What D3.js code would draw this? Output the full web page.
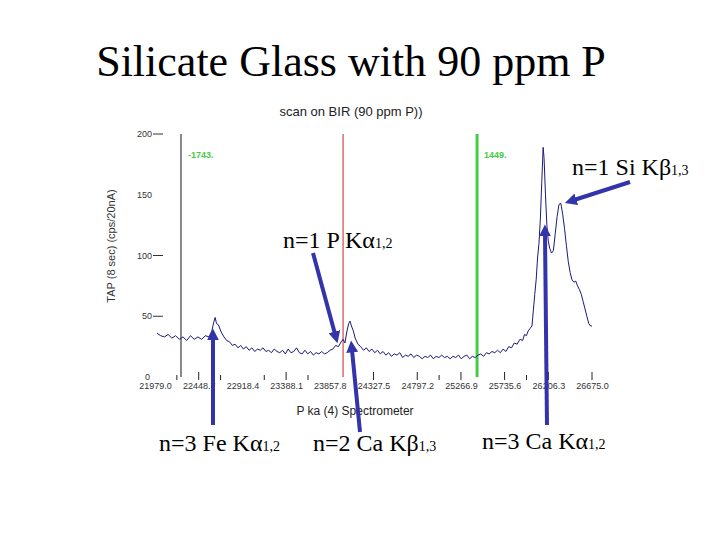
<!DOCTYPE html>
<html>
<head>
<meta charset="utf-8">
<script src="https://cdn.jsdelivr.net/npm/d3@7"></script>
<style>
  body { margin: 0; background: #fff; }
  svg { display: block; }
</style>
</head>
<body>
<div id="chart"></div>
<script>
// spectrometer positions of the labelled ticks
var tickValues = [21979.0, 22448.7, 22918.4, 23388.1, 23857.8, 24327.5,
  24797.2, 25266.9, 25735.6, 26206.3, 26675.0];
var tickLabels = ["21979.0", "22448.7", "22918.4", "23388.1", "23857.8", "24327.5",
  "24797.2", "25266.9", "25735.6", "26206.3", "26675.0"];
var majorTicks = [22448.7, 23388.1, 24327.5, 24797.2, 25266.9, 25735.6, 26206.3, 26675.0];
var minorTicks = [22213.85, 22683.55, 23153.25, 23622.95, 25032.05, 25971.0];
var yTicks = [0, 50, 100, 150, 200];

// scan: position / counts
var positions = [22000, 22040, 22080, 22120, 22160, 22200, 22240, 22280, 22320, 22360,
  22400, 22440, 22480, 22520, 22560, 22590, 22610, 22625, 22640, 22660,
  22690, 22720, 22750, 22780, 22810, 22840, 22870, 22900, 22930, 22960,
  22990, 23020, 23050, 23080, 23110, 23140, 23170, 23200, 23230, 23260,
  23290, 23320, 23350, 23380, 23410, 23440, 23470, 23500, 23530, 23560,
  23590, 23620, 23650, 23680, 23710, 23740, 23770, 23800, 23830, 23860,
  23890, 23920, 23950, 23980, 24000, 24020, 24040, 24060, 24075, 24090,
  24110, 24130, 24160, 24190, 24220, 24250, 24280, 24310, 24340, 24370,
  24400, 24430, 24460, 24490, 24520, 24550, 24580, 24610, 24640, 24670,
  24700, 24730, 24760, 24790, 24820, 24850, 24880, 24910, 24940, 24970,
  25000, 25030, 25060, 25090, 25120, 25150, 25180, 25210, 25240, 25270,
  25300, 25330, 25360, 25390, 25420, 25450, 25480, 25510, 25540, 25570,
  25600, 25630, 25660, 25690, 25720, 25750, 25780, 25810, 25840, 25870,
  25900, 25930, 25950, 25970, 25990, 26010, 26030, 26045, 26060, 26075,
  26090, 26105, 26120, 26135, 26150, 26160, 26175, 26190, 26205, 26220,
  26240, 26260, 26280, 26300, 26320, 26340, 26360, 26380, 26400, 26420,
  26440, 26460, 26480, 26500, 26520, 26540, 26560, 26580, 26600, 26620,
  26640, 26660, 26675];
var counts = [36, 34, 33, 35, 32, 34, 31, 33, 30, 34,
  31, 33, 31, 34, 33, 38, 45, 49, 44, 43,
  37, 33, 30, 29, 26, 27, 24, 26, 23, 25,
  22, 24, 21, 23, 22, 24, 21, 22, 20, 23,
  21, 20, 22, 19, 23, 20, 21, 24, 20, 19,
  22, 19, 21, 18, 20, 19, 21, 19, 20, 22,
  23, 26, 25, 29, 31, 28, 37, 44, 46, 42,
  38, 32, 27, 25, 22, 24, 21, 23, 20, 22,
  19, 21, 18, 20, 17, 19, 18, 20, 16, 18,
  17, 19, 16, 18, 17, 15, 17, 16, 18, 15,
  17, 16, 18, 16, 17, 15, 17, 16, 18, 15,
  17, 18, 15, 17, 16, 18, 19, 17, 20, 19,
  21, 20, 22, 20, 23, 21, 25, 24, 28, 27,
  31, 30, 35, 34, 38, 40, 42, 55, 68, 80,
  98, 110, 130, 160, 189, 180, 150, 125, 112, 106,
  102, 104, 118, 132, 142, 143, 134, 122, 108, 95,
  86, 80, 78, 79, 75, 72, 68, 62, 56, 50,
  44, 42, 42];

// marker lines
var markerPos = [22258, 24000, 25440];
var markerColors = ["#888888", "#cc2222", "#44cc44"];
var markerWidths = [2, 1, 3];
var markerLabels = ["-1743.", "", "1449."];

var w = 720;
var h = 540;

var svg = d3
  .select("#chart")
  .append("svg")
  .attr("width", w)
  .attr("height", h);

var xScale = d3.scaleLinear().domain([21979.0, 26675.0]).range([155, 592]);
var yScale = d3.scaleLinear().domain([0, 200]).range([377, 134]);

// main title
svg
  .append("text")
  .attr("x", 351)
  .attr("y", 76)
  .attr("text-anchor", "middle")
  .style("font-family", "'Liberation Serif', 'Times New Roman', serif")
  .style("font-size", "44px")
  .text("Silicate Glass with 90 ppm P");

// chart title
svg
  .append("text")
  .attr("x", 351)
  .attr("y", 116)
  .attr("text-anchor", "middle")
  .style("font-family", "'Liberation Sans', Arial, sans-serif")
  .style("font-size", "13px")
  .style("fill", "#222")
  .text("scan on BIR (90 ppm P))");

// y axis (labels + short dashes, no axis line)
var yAxis = svg.append("g").attr("class", "y-axis");
yAxis
  .selectAll("text")
  .data(yTicks)
  .enter()
  .append("text")
  .attr("x", function (d) { return d === 0 ? 150 : 152; })
  .attr("y", function (d) { return yScale(d) + 3; })
  .attr("text-anchor", "end")
  .style("font-family", "'Liberation Sans', Arial, sans-serif")
  .style("font-size", "9px")
  .style("fill", "#333")
  .text(function (d) { return d; });
yAxis
  .selectAll("line")
  .data([50, 100, 200])
  .enter()
  .append("line")
  .attr("x1", 153)
  .attr("x2", 163)
  .attr("y1", function (d) { return yScale(d); })
  .attr("y2", function (d) { return yScale(d); })
  .attr("stroke", "#333")
  .attr("stroke-width", 1);

svg
  .append("text")
  .attr("transform", "translate(115," + 246 + ") rotate(-90)")
  .attr("text-anchor", "middle")
  .style("font-family", "'Liberation Sans', Arial, sans-serif")
  .style("font-size", "11px")
  .style("fill", "#333")
  .text("TAP (8 sec) (cps/20nA)");

// x axis labels via d3 axis, tick marks drawn separately
var xAxis = d3
  .axisBottom(xScale)
  .tickValues(tickValues)
  .tickSize(0)
  .tickPadding(0)
  .tickFormat(function (d, i) { return tickLabels[i]; });

var gx = svg
  .append("g")
  .attr("class", "x-axis")
  .attr("transform", "translate(0,383)")
  .call(xAxis);
gx.select(".domain").remove();
gx.selectAll("text")
  .style("font-family", "'Liberation Sans', Arial, sans-serif")
  .style("font-size", "9px")
  .style("fill", "#333");

svg
  .selectAll(".major-tick")
  .data(majorTicks)
  .enter()
  .append("line")
  .attr("class", "major-tick")
  .attr("x1", function (d) { return xScale(d); })
  .attr("x2", function (d) { return xScale(d); })
  .attr("y1", 372)
  .attr("y2", 380)
  .attr("stroke", "#222")
  .attr("stroke-width", 1);
svg
  .selectAll(".minor-tick")
  .data(minorTicks)
  .enter()
  .append("line")
  .attr("class", "minor-tick")
  .attr("x1", function (d) { return xScale(d); })
  .attr("x2", function (d) { return xScale(d); })
  .attr("y1", 375)
  .attr("y2", 380)
  .attr("stroke", "#222")
  .attr("stroke-width", 1);

svg
  .append("text")
  .attr("x", 355)
  .attr("y", 415)
  .attr("text-anchor", "middle")
  .style("font-family", "'Liberation Sans', Arial, sans-serif")
  .style("font-size", "12px")
  .style("fill", "#222")
  .text("P  ka (4) Spectrometer");

// marker lines
svg
  .selectAll(".marker")
  .data(markerPos)
  .enter()
  .append("line")
  .attr("class", "marker")
  .attr("x1", function (d) { return xScale(d); })
  .attr("x2", function (d) { return xScale(d); })
  .attr("y1", yScale(200))
  .attr("y2", yScale(0))
  .attr("stroke", function (d, i) { return markerColors[i]; })
  .attr("stroke-width", function (d, i) { return markerWidths[i]; });

svg
  .selectAll(".marker-label")
  .data(markerPos)
  .enter()
  .append("text")
  .attr("class", "marker-label")
  .attr("x", function (d) { return xScale(d) + 7; })
  .attr("y", 158)
  .style("font-family", "'Liberation Sans', Arial, sans-serif")
  .style("font-size", "9px")
  .style("font-weight", "bold")
  .style("fill", "#44cc44")
  .text(function (d, i) { return markerLabels[i]; });

// spectrum
var line = d3
  .line()
  .x(function (d, i) { return xScale(positions[i]); })
  .y(function (d) { return yScale(d); });

svg
  .append("path")
  .datum(counts)
  .attr("d", line)
  .attr("fill", "none")
  .attr("stroke", "#1a1a7a")
  .attr("stroke-width", 1);

// arrows
var arrowColor = "#3333aa";
var defs = svg.append("defs");
defs
  .append("marker")
  .attr("id", "head")
  .attr("viewBox", "0 0 10 10")
  .attr("refX", 2)
  .attr("refY", 5)
  .attr("markerWidth", 3)
  .attr("markerHeight", 3)
  .attr("markerUnits", "strokeWidth")
  .attr("orient", "auto")
  .append("path")
  .attr("d", "M0,0 L10,5 L0,10 z")
  .attr("fill", arrowColor);

var arrows = [
  [213, 425, 213, 338],
  [313, 253, 335, 334],
  [360, 432, 352, 350],
  [547, 425, 545, 234],
  [630, 182, 574, 200]
];
svg
  .selectAll(".arrow")
  .data(arrows)
  .enter()
  .append("line")
  .attr("class", "arrow")
  .attr("x1", function (d) { return d[0]; })
  .attr("y1", function (d) { return d[1]; })
  .attr("x2", function (d) { return d[2]; })
  .attr("y2", function (d) { return d[3]; })
  .attr("stroke", arrowColor)
  .attr("stroke-width", 4)
  .attr("marker-end", "url(#head)");

// annotations
var notes = [
  { x: 283, y: 248, main: "n=1 P K", greek: "α", sub: "1,2" },
  { x: 572, y: 175, main: "n=1 Si K", greek: "β", sub: "1,3" },
  { x: 159, y: 451, main: "n=3 Fe K", greek: "α", sub: "1,2" },
  { x: 313, y: 451, main: "n=2 Ca K", greek: "β", sub: "1,3" },
  { x: 482, y: 449, main: "n=3 Ca K", greek: "α", sub: "1,2" }
];
var note = svg
  .selectAll(".note")
  .data(notes)
  .enter()
  .append("text")
  .attr("class", "note")
  .attr("x", function (d) { return d.x; })
  .attr("y", function (d) { return d.y; })
  .style("font-family", "'Liberation Serif', 'Times New Roman', serif")
  .style("font-size", "24px")
  .style("fill", "#000");
note.append("tspan").text(function (d) { return d.main; });
note.append("tspan").text(function (d) { return d.greek; });
note
  .append("tspan")
  .style("font-size", "14px")
  .text(function (d) { return d.sub; });
</script>
</body>
</html>
